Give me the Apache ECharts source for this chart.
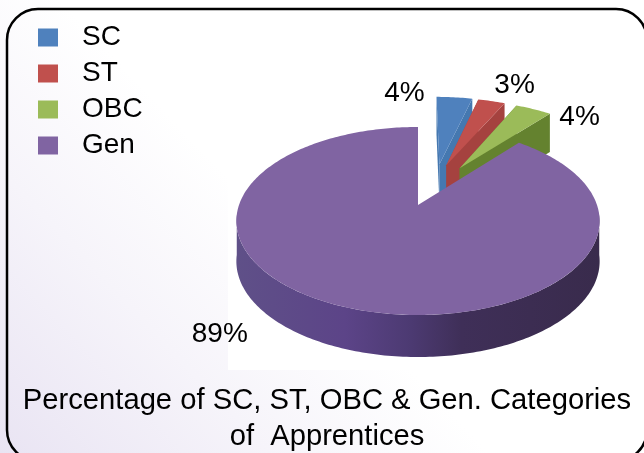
<!DOCTYPE html>
<html>
<head>
<meta charset="utf-8">
<style>html,body{margin:0;padding:0;background:#fff}#c{width:644px;height:453px}</style>
<script src="https://cdn.jsdelivr.net/npm/echarts@6/dist/echarts.min.js"></script>
</head>
<body>
<div id="c"></div>
<script>
// ---- data ----
const categories = ['SC', 'ST', 'OBC', 'Gen'];
const percents = [4, 3, 4, 89];
const titleLines = ['Percentage of SC, ST, OBC & Gen. Categories', 'of  Apprentices'];

// ---- styling ----
const topColors = ['#4f81bd', '#c0504d', '#9bbb59', '#8064a2'];
const sideColors = ['#4578b0', '#a5423f', '#64822f', '#4a3870'];
const legendColors = ['#4f81bd', '#c0504d', '#9bbb59', '#8064a2'];
const explodeDir = [15, 20, 30, 0];     // degrees
const explodeDist = [0.5, 0.5, 0.5, 0]; // fraction of radius
const labelNudge = [[-50, -4], [23, -16], [46, 8], [-126, 27]];
const FONT = '"Liberation Sans", Arial, sans-serif';
const FS = 28;
const TITLE_FS = 29.2;
// pie projection
const P = { ax: 418, ay: 205, R: 179, H: 91.3, k: 0.17 };

const total = percents.reduce((a, b) => a + b, 0);
const startAngle = i => percents.slice(0, i).reduce((a, b) => a + b, 0) / total * 360;
const rad = d => d * Math.PI / 180;

function project(u, v, down) {
  const s = 1 / (1 + P.k * v);
  return [P.ax + P.R * u * s, P.ay - P.H * v * s + (down ? 30 + 10 * s : 0)];
}
function sliceGeom(i) {
  const a0 = startAngle(i), a1 = startAngle(i + 1);
  const ou = explodeDist[i] * Math.sin(rad(explodeDir[i]));
  const ov = explodeDist[i] * Math.cos(rad(explodeDir[i]));
  const rim = (a, down) => project(Math.sin(rad(a)) + ou, Math.cos(rad(a)) + ov, down);
  const apex = down => project(ou, ov, down);
  return { a0, a1, rim, apex };
}

function renderSlice(idx) {
  return function () {
    const g = sliceGeom(idx);
    const children = [];
    const arc = (from, to, down) => {
      const pts = [];
      const n = Math.max(2, Math.ceil(Math.abs(to - from)));
      for (let j = 0; j <= n; j++) pts.push(g.rim(from + (to - from) * j / n, down));
      return pts;
    };
    if (idx === 3) {
      // visible front wall
      const top = arc(96, 264, false);
      const bot = arc(264, 96, true);
      children.push({
        type: 'polygon',
        shape: { points: top.concat(bot) },
        style: {
          fill: new echarts.graphic.LinearGradient(0, 0, 1, 0, [
            { offset: 0, color: '#5f5088' },
            { offset: 0.3, color: '#5c4488' },
            { offset: 0.48, color: '#4c3a72' },
            { offset: 0.62, color: '#3f2f58' },
            { offset: 1, color: '#392b4c' }
          ])
        }
      });
    } else {
      children.push({
        type: 'polygon',
        shape: { points: [g.apex(false), g.rim(g.a0, false), g.rim(g.a0, true), g.apex(true)] },
        style: { fill: sideColors[idx] }
      });
      children.push({
        type: 'polygon',
        shape: { points: [g.apex(false), g.rim(g.a1, false), g.rim(g.a1, true), g.apex(true)] },
        style: { fill: sideColors[idx] }
      });
    }
    children.push({
      type: 'polygon',
      shape: { points: [g.apex(false)].concat(arc(g.a0, g.a1, false)) },
      style: { fill: topColors[idx] }
    });
    const m = g.rim((g.a0 + g.a1) / 2, false);
    children.push({
      type: 'text',
      style: {
        text: percents[idx] + '%',
        x: m[0] + labelNudge[idx][0],
        y: m[1] + labelNudge[idx][1],
        align: 'center', verticalAlign: 'middle',
        font: FS + 'px ' + FONT, fill: '#000'
      }
    });
    return { type: 'group', children };
  };
}

const chart = echarts.init(document.getElementById('c'), null, { width: 644, height: 453 });
chart.setOption({
  animation: false,
  title: {
    text: titleLines.join('\n'),
    left: 322, top: 378, textAlign: 'center',
    textStyle: { fontFamily: FONT, fontSize: TITLE_FS, fontWeight: 'normal', color: '#000', lineHeight: 36 }
  },
  legend: {
    data: categories,
    orient: 'vertical',
    left: 33, top: 17,
    icon: 'rect',
    itemWidth: 20, itemHeight: 18,
    itemGap: 5,
    textStyle: { fontFamily: FONT, fontSize: FS, color: '#000', padding: [0, 0, 0, 19], lineHeight: 31 }
  },
  graphic: [
    { type: 'rect', z: -10, silent: true, shape: { x: 0, y: 0, width: 644, height: 453 },
      style: { fill: new echarts.graphic.LinearGradient(0, 1, 0.4, 0.46, [
        { offset: 0, color: '#e9e4f3' }, { offset: 0.55, color: '#f6f4fa' }, { offset: 1, color: '#ffffff' }]) } },
    { type: 'rect', z: -9, silent: true, shape: { x: 228, y: 60, width: 416, height: 310 }, style: { fill: '#fff' } },
    { type: 'rect', z: -8, silent: true, shape: { x: 7, y: 9, width: 640, height: 452, r: 31 },
      style: { fill: 'none', stroke: '#000', lineWidth: 2.5 } }
  ],
  series: categories.map((name, i) => ({
    type: 'custom',
    name,
    coordinateSystem: 'none',
    itemStyle: { color: legendColors[i] },
    data: [[percents[i]]],
    silent: true,
    renderItem: renderSlice(i)
  }))
});
</script>
</body>
</html>
